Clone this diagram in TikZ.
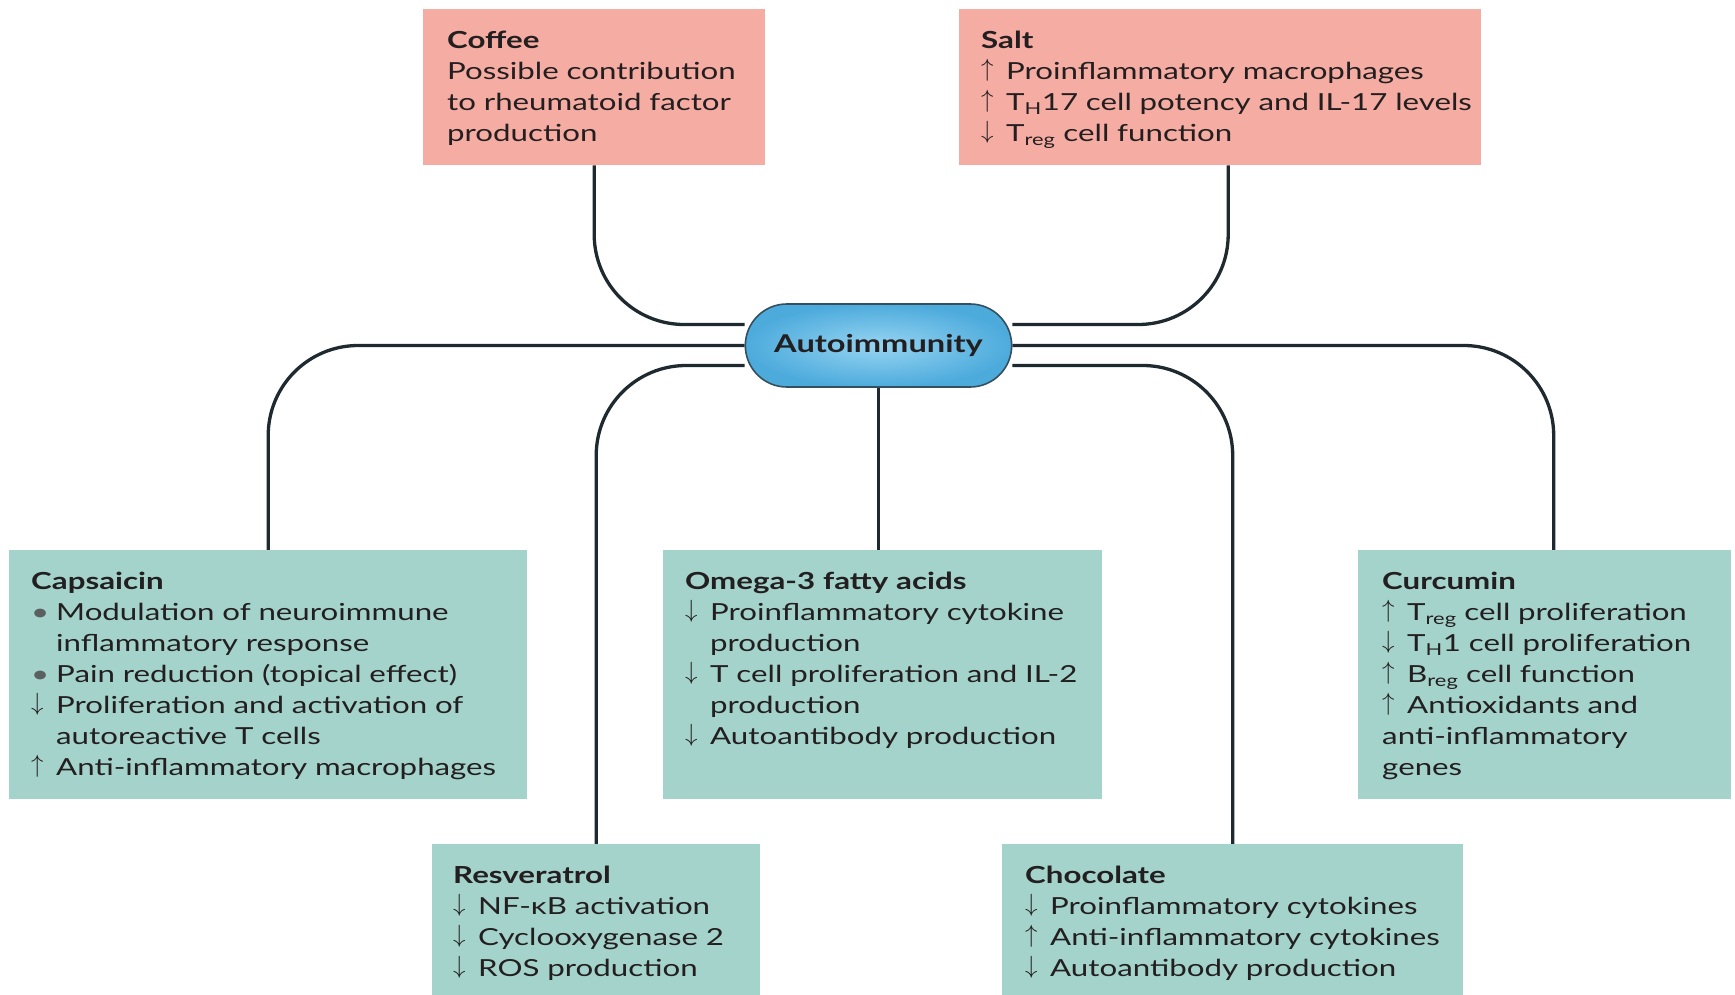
\documentclass[tikz,border=0pt]{standalone}
\usepackage{fontspec}
\setmainfont{Lato}[FakeStretch=1.33]
\usetikzlibrary{positioning,shapes.misc}
\pgfdeclarelayer{background}
\pgfsetlayers{background,main}

\definecolor{saltpink}{HTML}{F5ACA2}
\definecolor{foodteal}{HTML}{A4D3CB}
\definecolor{pillblue}{HTML}{4DABDC}
\definecolor{pilllight}{HTML}{96D4F2}
\definecolor{pilledge}{HTML}{34505F}
\definecolor{linkgray}{HTML}{1F2A30}
\definecolor{inkblack}{HTML}{231F20}
\definecolor{dotgray}{HTML}{5A5F60}

\newcommand{\incr}{\raisebox{3pt}{$\uparrow$}}
\newcommand{\decr}{\raisebox{3pt}{$\downarrow$}}
\newcommand{\bul}{\textcolor{dotgray}{\textbullet}}
\newcommand{\fitem}[2]{\par\noindent\hangindent=25pt\hangafter=1\makebox[25pt][l]{#1}#2}

\begin{document}
\begin{tikzpicture}[x=1pt, y=-1pt,
	box/.style={rectangle, anchor=north west, inner sep=0pt},
	pinkbox/.style={box, fill=saltpink},
	tealbox/.style={box, fill=foodteal},
	txt/.style={anchor=north west, inner sep=0pt, align=left, text=inkblack,
		font=\fontsize{23.5}{31}\selectfont, execute at begin node=\strut},
	pill/.style={rounded rectangle, minimum width=273pt, minimum height=83pt,
		inner color=pilllight, outer color=pillblue, draw=pilledge, line width=1.6pt,
		text=inkblack, font=\fontsize{24.5}{30}\selectfont\bfseries},
	link/.style={draw=linkgray, line width=3.3pt, rounded corners=90pt}]

	\useasboundingbox (0,0) rectangle (1735,995);

	% top row
	\node[pinkbox, minimum width=342pt, minimum height=156pt] (coffee) at (423, 9) {};
	\node[txt, text width=330pt, below right=17.5pt and 24pt of coffee.north west] (coffeetxt)
		{\textbf{Coffee}\\Possible contribution\\to rheumatoid factor\\production};

	\node[pinkbox, minimum width=522pt, minimum height=156pt] (salt) at (959, 9) {};
	\node[txt, text width=510pt, below right=17.5pt and 22pt of salt.north west] (salttxt)
		{\textbf{Salt}
		\fitem{\incr}{Proinflammatory macrophages}
		\fitem{\incr}{T\textsubscript{H}17 cell potency and IL-17 levels}
		\fitem{\decr}{T\textsubscript{reg} cell function}};

	% centre
	\node[pill] (auto) at (878.5, 345.5) {Autoimmunity};

	% middle row
	\node[tealbox, minimum width=518pt, minimum height=249pt] (caps) at (9, 550) {};
	\node[txt, text width=506pt, below right=17.5pt and 22pt of caps.north west] (capstxt)
		{\textbf{Capsaicin}
		\fitem{\bul}{Modulation of neuroimmune\newline inflammatory response}
		\fitem{\bul}{Pain reduction (topical effect)}
		\fitem{\decr}{Proliferation and activation of\newline autoreactive T cells}
		\fitem{\incr}{Anti-inflammatory macrophages}};

	\node[tealbox, minimum width=439pt, minimum height=249pt] (omega) at (663, 550) {};
	\node[txt, text width=427pt, below right=17.5pt and 22pt of omega.north west] (omegatxt)
		{\textbf{Omega-3 fatty acids}
		\fitem{\decr}{Proinflammatory cytokine\newline production}
		\fitem{\decr}{T cell proliferation and IL-2\newline production}
		\fitem{\decr}{Autoantibody production}};

	\node[tealbox, minimum width=373pt, minimum height=249pt] (curc) at (1358, 550) {};
	\node[txt, text width=361pt, below right=17.5pt and 24pt of curc.north west] (curctxt)
		{\textbf{Curcumin}
		\fitem{\incr}{T\textsubscript{reg} cell proliferation}
		\fitem{\decr}{T\textsubscript{H}1 cell proliferation}
		\fitem{\incr}{B\textsubscript{reg} cell function}
		\fitem{\incr}{Antioxidants and\newline anti-inflammatory\newline genes}};

	% bottom row
	\node[tealbox, minimum width=328pt, minimum height=151pt] (resv) at (432, 844) {};
	\node[txt, text width=316pt, below right=17.5pt and 21pt of resv.north west] (resvtxt)
		{\textbf{Resveratrol}
		\fitem{\decr}{NF-κB activation}
		\fitem{\decr}{Cyclooxygenase 2}
		\fitem{\decr}{ROS production}};

	\node[tealbox, minimum width=461pt, minimum height=151pt] (choc) at (1002, 844) {};
	\node[txt, text width=449pt, below right=17.5pt and 23pt of choc.north west] (choctxt)
		{\textbf{Chocolate}
		\fitem{\decr}{Proinflammatory cytokines}
		\fitem{\incr}{Anti-inflammatory cytokines}
		\fitem{\decr}{Autoantibody production}};

	% connectors
	\begin{pgfonlayer}{background}
		\draw[link] (coffee.south) |- ([yshift=21pt]auto.west);
		\draw[link] ([xshift=8pt]salt.south) |- ([yshift=21pt]auto.east);
		\draw[link] (auto.west) -| (caps.north);
		\draw[link] (auto.east) -| ([xshift=9pt]curc.north);
		\draw[link] ([yshift=-20pt]auto.west) -| (resv.north);
		\draw[link] ([yshift=-20pt]auto.east) -| (choc.north);
		\draw[link] (auto.south) -- (auto.south |- omega.north);
	\end{pgfonlayer}

\end{tikzpicture}
\end{document}
